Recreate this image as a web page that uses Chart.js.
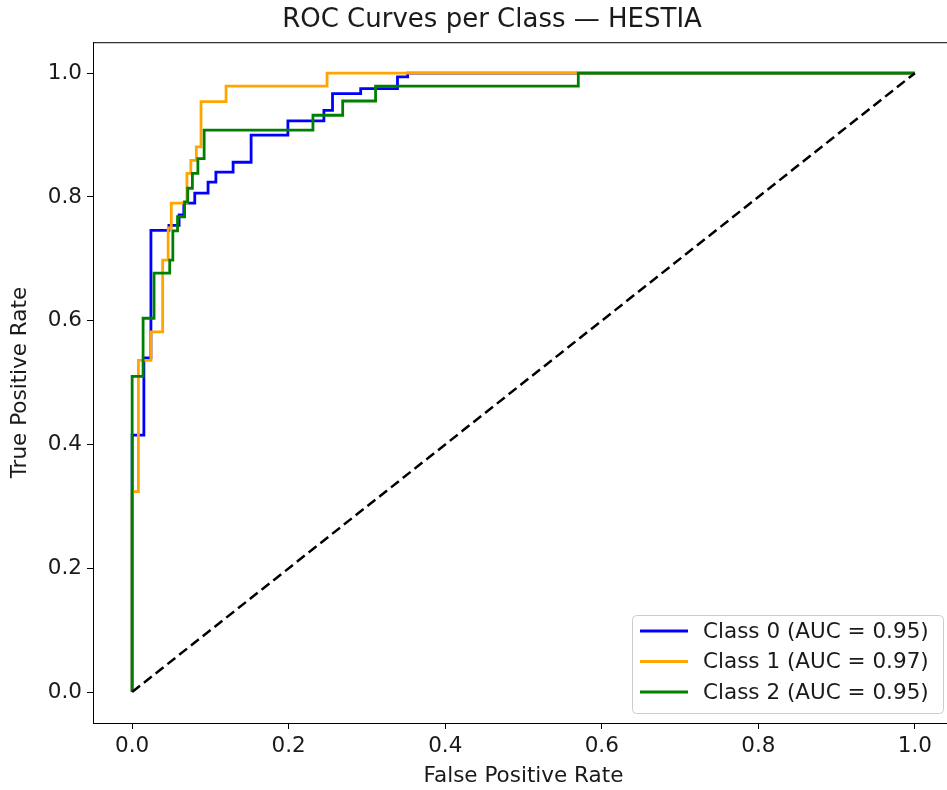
<!DOCTYPE html>
<html lang="en">
<head>
    <meta charset="UTF-8">
    <title>ROC Curves per Class — HESTIA</title>
    <script src="https://cdn.jsdelivr.net/npm/chart.js"></script>
    <style>
        html, body { margin: 0; padding: 0; background: #fff; overflow: hidden; }
        .chart-container { position: relative; width: 984px; height: 790px; }
    </style>
</head>
<body>
    <div class="chart-container">
        <canvas id="rocChart"></canvas>
    </div>

    <script>
    // ROC points (fpr, tpr) per class
    const fpr0 = [0, 0, 0.015, 0.015, 0.024, 0.024, 0.047, 0.047, 0.06, 0.06, 0.066, 0.066, 0.08, 0.08, 0.097, 0.097, 0.107, 0.107, 0.129, 0.129, 0.152, 0.152, 0.199, 0.199, 0.245, 0.245, 0.256, 0.256, 0.292, 0.292, 0.339, 0.339, 0.352, 0.352, 1];
    const tpr0 = [0, 0.415, 0.415, 0.54, 0.54, 0.746, 0.746, 0.754, 0.754, 0.771, 0.771, 0.79, 0.79, 0.806, 0.806, 0.824, 0.824, 0.84, 0.84, 0.856, 0.856, 0.9, 0.9, 0.923, 0.923, 0.94, 0.94, 0.967, 0.967, 0.975, 0.975, 0.994, 0.994, 1, 1];

    const fpr1 = [0, 0, 0.008, 0.008, 0.024, 0.024, 0.039, 0.039, 0.046, 0.046, 0.05, 0.05, 0.07, 0.07, 0.075, 0.075, 0.082, 0.082, 0.088, 0.088, 0.12, 0.12, 0.249, 0.249, 1];
    const tpr1 = [0, 0.324, 0.324, 0.536, 0.536, 0.582, 0.582, 0.698, 0.698, 0.75, 0.75, 0.79, 0.79, 0.838, 0.838, 0.859, 0.859, 0.881, 0.881, 0.954, 0.954, 0.979, 0.979, 1, 1];

    const fpr2 = [0, 0, 0.014, 0.014, 0.028, 0.028, 0.048, 0.048, 0.052, 0.052, 0.058, 0.058, 0.067, 0.067, 0.071, 0.071, 0.077, 0.077, 0.084, 0.084, 0.092, 0.092, 0.231, 0.231, 0.269, 0.269, 0.311, 0.311, 0.57, 0.57, 1];
    const tpr2 = [0, 0.51, 0.51, 0.604, 0.604, 0.677, 0.677, 0.698, 0.698, 0.745, 0.745, 0.768, 0.768, 0.792, 0.792, 0.814, 0.814, 0.838, 0.838, 0.862, 0.862, 0.908, 0.908, 0.932, 0.932, 0.955, 0.955, 0.979, 0.979, 1, 1];

    const diagX = [0, 1];
    const diagY = [0, 1];

    const classLabels = ['Class 0 (AUC = 0.95)', 'Class 1 (AUC = 0.97)', 'Class 2 (AUC = 0.95)'];
    const classColors = ['#0000ff', '#ffa500', '#008000'];
    const tickValues = [0, 0.2, 0.4, 0.6, 0.8, 1.0];

    const FONT = "'DejaVu Sans', sans-serif";
    const BASE = 21.5;
    const TEXT = '#1a1a1a';
    const toPoints = (xs, ys) => xs.map((x, i) => ({ x: x, y: ys[i] }));

    // frame on all 4 sides + legend box inside the plot (matplotlib style)
    const framePlugin = {
        id: 'frame',
        afterDraw(chart) {
            const { ctx, chartArea: a } = chart;
            ctx.save();
            ctx.strokeStyle = '#000';
            ctx.lineWidth = 1;
            ctx.strokeRect(a.left + 0.5, a.top + 0.5, a.right - a.left, a.bottom - a.top);

            // legend
            const w = 311, h = 98;
            const bx = a.right - 11 - w, by = a.bottom - 10 - h;
            ctx.beginPath();
            ctx.roundRect(bx + 0.5, by + 0.5, w, h, 4);
            ctx.fillStyle = 'rgba(255,255,255,0.8)';
            ctx.fill();
            ctx.strokeStyle = '#cccccc';
            ctx.stroke();

            const items = chart.data.datasets.filter(d => d.inLegend);
            ctx.font = BASE + 'px ' + FONT;
            ctx.textBaseline = 'middle';
            items.forEach((d, i) => {
                const ry = by + 16 + i * 30.5;
                ctx.beginPath();
                ctx.moveTo(bx + 8, ry);
                ctx.lineTo(bx + 56, ry);
                ctx.strokeStyle = d.borderColor;
                ctx.lineWidth = 2.8;
                ctx.stroke();
                ctx.fillStyle = TEXT;
                ctx.fillText(d.label, bx + 71, ry + 1);
            });
            ctx.restore();
        }
    };

    const classData = [[fpr0, tpr0], [fpr1, tpr1], [fpr2, tpr2]];
    const datasets = classData.map((c, i) => ({
        label: classLabels[i],
        data: toPoints(c[0], c[1]),
        borderColor: classColors[i],
        backgroundColor: classColors[i],
        borderWidth: 2.8,
        pointRadius: 0,
        fill: false,
        tension: 0,
        inLegend: true,
        order: 3 - i
    }));
    datasets.push({
        label: 'chance',
        data: toPoints(diagX, diagY),
        borderColor: '#000',
        borderWidth: 2.5,
        borderDash: [10, 5],
        pointRadius: 0,
        fill: false,
        inLegend: false,
        order: 0
    });

    const axisCommon = {
        type: 'linear',
        min: -0.05,
        max: 1.05,
        afterBuildTicks: scale => { scale.ticks = tickValues.map(v => ({ value: v })); },
        grid: { drawOnChartArea: false, drawTicks: true, tickLength: 6, color: '#000' },
        border: { display: true, color: '#000', width: 1 }
    };

    new Chart(document.getElementById('rocChart'), {
        type: 'line',
        data: { datasets: datasets },
        options: {
            responsive: true,
            maintainAspectRatio: false,
            animation: false,
            events: [],
            layout: { padding: 0 },
            plugins: {
                legend: { display: false },
                tooltip: { enabled: false },
                title: {
                    display: true,
                    text: 'ROC Curves per Class — HESTIA',
                    color: TEXT,
                    font: { family: FONT, size: 26, weight: 'normal', lineHeight: 1.2 },
                    padding: { top: 5, bottom: 6 }
                }
            },
            scales: {
                x: Object.assign({}, axisCommon, {
                    ticks: {
                        callback: v => v.toFixed(1),
                        color: TEXT,
                        font: { family: FONT, size: BASE },
                        padding: 5,
                        maxRotation: 0
                    },
                    title: {
                        display: true,
                        text: 'False Positive Rate',
                        color: TEXT,
                        font: { family: FONT, size: BASE, lineHeight: 1.2 },
                        padding: { top: 2, bottom: 1 }
                    },
                    afterFit: scale => { scale.height = 67; }
                }),
                y: Object.assign({}, axisCommon, {
                    ticks: {
                        callback: v => v.toFixed(1),
                        color: TEXT,
                        font: { family: FONT, size: BASE },
                        padding: 5
                    },
                    title: {
                        display: true,
                        text: 'True Positive Rate',
                        color: TEXT,
                        font: { family: FONT, size: BASE, lineHeight: 1.2 },
                        padding: { top: 8, bottom: 2 }
                    },
                    afterFit: scale => { scale.width = 93; }
                }),
                // empty spacer on the right so the title centres like the original
                spacer: {
                    type: 'linear',
                    position: 'right',
                    display: true,
                    ticks: { display: false },
                    grid: { display: false, drawTicks: false },
                    border: { display: false },
                    afterFit: scale => { scale.width = 30; }
                }
            }
        },
        plugins: [framePlugin]
    });
    </script>
</body>
</html>
